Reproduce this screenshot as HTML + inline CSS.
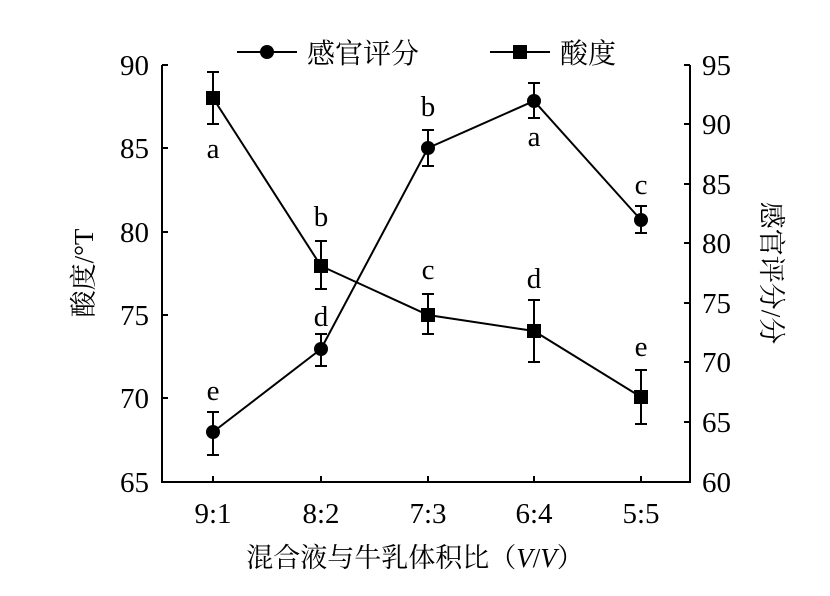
<!DOCTYPE html>
<html><head><meta charset="utf-8"><style>body{margin:0;background:#fff}</style></head><body>
<svg width="830" height="591" viewBox="0 0 830 591" xmlns="http://www.w3.org/2000/svg" font-family="'Liberation Serif','Noto Serif CJK SC',serif">
<rect width="830" height="591" fill="#fff"/>
<g stroke="#000" stroke-width="2" fill="none">
<path d="M162,65 V482 H690 V65"/>
<path d="M162,65h6M162,148h6M162,232h6M162,315h6M162,398h6"/>
<path d="M690,65h-6M690,124h-6M690,184h-6M690,243h-6M690,303h-6M690,362h-6M690,422h-6"/>
<path d="M213,482v-6M321,482v-6M428,482v-6M534,482v-6M641,482v-6"/>
<polyline points="213,98 321,266 428,315 534,331 641,397"/>
<polyline points="213,432 321,349 428,148 534,101 641,220"/>
<path d="M213,72V124M207,72h12M207,124h12 M321,241V289M315,241h12M315,289h12 M428,294V334M422,294h12M422,334h12 M534,300V362M528,300h12M528,362h12 M641,370V424M635,370h12M635,424h12"/>
<path d="M213,412V455M207,412h12M207,455h12 M321,334V366M315,334h12M315,366h12 M428,130V166M422,130h12M422,166h12 M534,83V118M528,83h12M528,118h12 M641,206V233M635,206h12M635,233h12"/>
<path d="M237,52h60M490,52h60"/>
</g>
<g fill="#000">
<rect x="206" y="91" width="14" height="14"/><rect x="314" y="259" width="14" height="14"/><rect x="421" y="308" width="14" height="14"/><rect x="527" y="324" width="14" height="14"/><rect x="634" y="390" width="14" height="14"/>
<circle cx="213" cy="432" r="7"/><circle cx="321" cy="349" r="7"/><circle cx="428" cy="148" r="7"/><circle cx="534" cy="101" r="7"/><circle cx="641" cy="220" r="7"/>
<circle cx="267" cy="52" r="7"/><rect x="513" y="45" width="14" height="14"/>
</g>
<g font-size="29" text-anchor="end">
<text x="149" y="75">90</text><text x="149" y="158">85</text><text x="149" y="242">80</text><text x="149" y="325">75</text><text x="149" y="408">70</text><text x="149" y="492">65</text>
</g>
<g font-size="29" text-anchor="start">
<text x="702" y="75">95</text><text x="702" y="134">90</text><text x="702" y="194">85</text><text x="702" y="253">80</text><text x="702" y="313">75</text><text x="702" y="372">70</text><text x="702" y="432">65</text><text x="702" y="492">60</text>
</g>
<g font-size="29" text-anchor="middle">
<text x="213" y="523">9:1</text><text x="321" y="523">8:2</text><text x="428" y="523">7:3</text><text x="534" y="523">6:4</text><text x="641" y="523">5:5</text>
<text x="213" y="158">a</text><text x="321" y="226">b</text><text x="428" y="279">c</text><text x="534" y="288">d</text><text x="641" y="356">e</text>
<text x="213" y="400">e</text><text x="321" y="326">d</text><text x="428" y="116">b</text><text x="534" y="146">a</text><text x="641" y="194">c</text>
</g>
<text x="307" y="63" font-size="28">感官评分</text>
<text x="560" y="63" font-size="28">酸度</text>
<text x="415" y="567" font-size="27" text-anchor="middle">混合液与牛乳体积比（<tspan font-style="italic">V</tspan>/<tspan font-style="italic">V</tspan>）</text>
<text transform="translate(93,273) rotate(-90)" font-size="27" text-anchor="middle">酸度/°T</text>
<text transform="translate(762,273) rotate(90)" font-size="27" text-anchor="middle">感官评分/分</text>
</svg>
</body></html>
